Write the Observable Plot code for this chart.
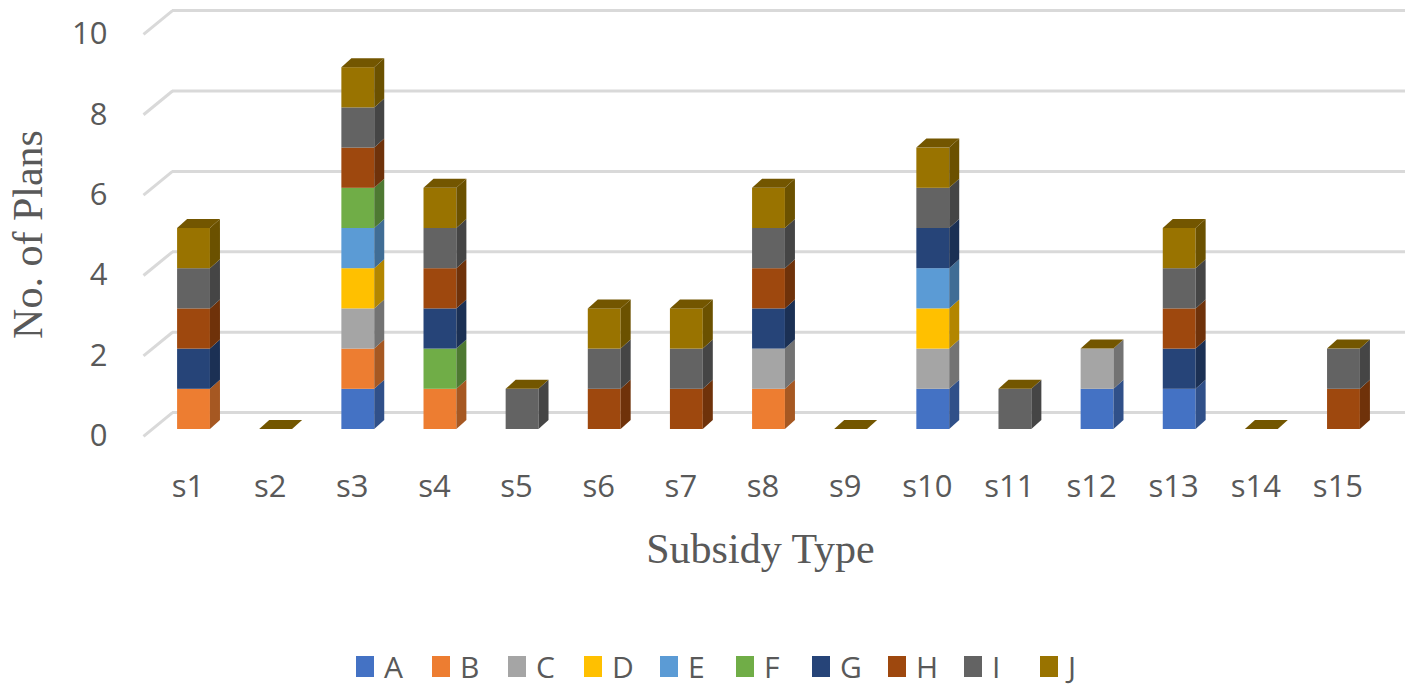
<!DOCTYPE html>
<html><head><meta charset="utf-8">
<script src="https://cdn.jsdelivr.net/npm/d3@7"></script>
<script src="https://cdn.jsdelivr.net/npm/@observablehq/plot@0.6"></script>
<style>
body{margin:0;background:#fff;width:1418px;height:693px;overflow:hidden}
#legend{display:flex;justify-content:center;align-items:center;height:53px;font-family:"Open Sans",sans-serif;font-size:30px;color:#595959;padding-left:14px;box-sizing:border-box}
.item{display:flex;align-items:center;width:76px;white-space:nowrap}
.item:last-child{width:auto}
.sw{width:18px;height:21px;margin-right:10px;flex:none}
</style></head><body><div id="chart"></div><div id="legend"></div>
<script>
const categories = ["s1","s2","s3","s4","s5","s6","s7","s8","s9","s10","s11","s12","s13","s14","s15"];
const seriesNames = ["A","B","C","D","E","F","G","H","I","J"];
const A = [0,0,1,0,0,0,0,0,0,1,0,1,1,0,0];
const B = [1,0,1,1,0,0,0,1,0,0,0,0,0,0,0];
const C = [0,0,1,0,0,0,0,1,0,1,0,1,0,0,0];
const D = [0,0,1,0,0,0,0,0,0,1,0,0,0,0,0];
const E = [0,0,1,0,0,0,0,0,0,1,0,0,0,0,0];
const F = [0,0,1,1,0,0,0,0,0,0,0,0,0,0,0];
const G = [1,0,0,1,0,0,0,1,0,1,0,0,1,0,0];
const H = [1,0,1,1,0,1,1,1,0,0,0,0,1,0,1];
const I = [1,0,1,1,1,1,1,1,0,1,1,0,1,0,1];
const J = [1,0,1,1,0,1,1,1,0,1,0,0,1,0,0];
const seriesValues = [A,B,C,D,E,F,G,H,I,J];
const colors = ["#4472C4","#ED7D31","#A5A5A5","#FFC000","#5B9BD5","#70AD47","#264478","#9E480E","#636363","#997300"];
const yTicks = [0,2,4,6,8,10];
const xTitle = "Subsidy Type";
const yTitle = "No. of Plans";

// geometry of the pseudo-3D projection (in data units)
const halfW = 0.2, ddx = 0.122, ddy = 0.224;   // bar half width, bar depth offsets
const backX = 0.738, backDY = 0.42, frontDY = -0.17; // wall grid offsets
const xDomain = [0.385, 15.749];

const segments = [], sides = [], tops = [];
categories.forEach((cat, ci) => {
  const xc = ci + 1;
  let cum = 0;
  seriesValues.forEach((vals, si) => {
    const v = vals[ci];
    if (v > 0) {
      const lo = cum, hi = cum + v;
      const id = cat + "-" + si;
      const side = d3.color(colors[si]).darker(1).formatHex();
      segments.push({x1: xc - halfW, x2: xc + halfW, y1: lo, y2: hi, fill: colors[si]});
      sides.push({id, x: xc + halfW, y1: lo, y2: hi, fill: side});
      sides.push({id, x: xc + halfW + ddx, y1: lo + ddy, y2: hi + ddy, fill: side});
    }
    cum += v;
  });
  const topFill = d3.color(colors[colors.length - 1]).darker(0.8).formatHex();
  tops.push({id: cat, y: cum, x1: xc - halfW, x2: xc + halfW, fill: topFill});
  tops.push({id: cat, y: cum + ddy, x1: xc - halfW + ddx, x2: xc + halfW + ddx, fill: topFill});
});

const textColor = "#595959";
const sans = "'Open Sans', sans-serif";
const serif = "'Liberation Serif', 'Times New Roman', serif";

const chart = Plot.plot({
  width: 1418,
  height: 640,
  marginLeft: 143,
  marginRight: 13,
  marginTop: 27,
  marginBottom: 211,
  x: {type: "linear", domain: xDomain, axis: null},
  y: {domain: [0, 10], axis: null},
  color: {type: "identity"},
  style: {background: "white", overflow: "visible"},
  marks: [
    Plot.ruleY(yTicks, {y: d => d + backDY, x1: backX, x2: xDomain[1], stroke: "#d9d9d9", strokeWidth: 3}),
    Plot.link(yTicks, {x1: xDomain[0], y1: d => d + frontDY, x2: backX, y2: d => d + backDY, stroke: "#d9d9d9", strokeWidth: 3}),
    Plot.rect(segments, {x1: "x1", x2: "x2", y1: "y1", y2: "y2", fill: "fill"}),
    Plot.areaY(sides, {x: "x", y1: "y1", y2: "y2", z: "id", fill: "fill"}),
    Plot.areaX(tops, {y: "y", x1: "x1", x2: "x2", z: "id", fill: "fill"}),
    Plot.text(yTicks, {x: xDomain[0], y: d => d + frontDY, text: d => String(d), textAnchor: "end", dx: -36, fontSize: 31, fill: textColor, fontFamily: sans}),
    Plot.text(categories, {x: (d, i) => i + 1, y: 0, text: d => d, dx: -6, dy: 58, fontSize: 31, fill: textColor, fontFamily: sans}),
    Plot.text([xTitle], {frameAnchor: "bottom", text: d => d, textAnchor: "middle", lineAnchor: "middle", dx: -14, dy: 120, fontSize: 42, fill: textColor, fontFamily: serif}),
    Plot.text([yTitle], {frameAnchor: "left", text: d => d, rotate: -90, textAnchor: "middle", lineAnchor: "middle", dx: -115, dy: 6, fontSize: 42, fill: textColor, fontFamily: serif})
  ]
});
document.getElementById("chart").appendChild(chart);

const legend = document.getElementById("legend");
seriesNames.forEach((name, i) => {
  const item = document.createElement("div");
  item.className = "item";
  const sw = document.createElement("span");
  sw.className = "sw";
  sw.style.background = colors[i];
  const lab = document.createElement("span");
  lab.textContent = name;
  item.appendChild(sw);
  item.appendChild(lab);
  legend.appendChild(item);
});
</script></body></html>
